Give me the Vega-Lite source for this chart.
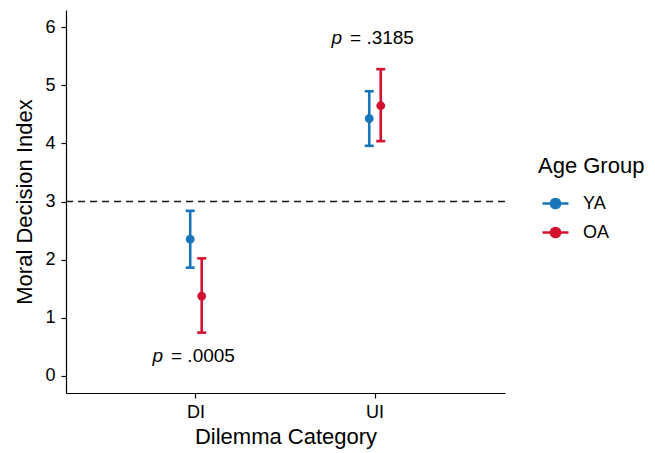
{
  "$schema": "https://vega.github.io/schema/vega-lite/v6.json",
  "width": 439,
  "height": 383,
  "autosize": "none",
  "padding": {"left": 66, "top": 10, "right": 150, "bottom": 60},
  "background": "white",
  "config": {
    "view": {"stroke": null},
    "font": "Liberation Sans",
    "axis": {"grid": false, "domainColor": "black", "domainWidth": 1.2, "tickColor": "black", "tickWidth": 1.2, "tickSize": 5, "labelColor": "black", "titleColor": "black", "labelFont": "Liberation Sans", "titleFont": "Liberation Sans", "labelFontSize": 18, "titleFontSize": 22, "titleFontWeight": "normal"}
  },
  "datasets": {
    "stats": [
      {"category": "DI", "group": "YA", "mean": 2.35, "lo": 1.86, "hi": 2.84},
      {"category": "DI", "group": "OA", "mean": 1.37, "lo": 0.74, "hi": 2.02},
      {"category": "UI", "group": "YA", "mean": 4.43, "lo": 3.96, "hi": 4.9},
      {"category": "UI", "group": "OA", "mean": 4.65, "lo": 4.04, "hi": 5.28}
    ],
    "notes": [
      {"category": "DI", "y": 0.33, "p": "p", "rest": "= .0005"},
      {"category": "UI", "y": 5.82, "p": "p", "rest": "= .3185"}
    ],
    "ref": [{"threshold": 3}]
  },
  "encoding": {
    "x": {"field": "category", "type": "nominal", "sort": ["DI", "UI"],
      "scale": {"type": "band", "domain": ["DI", "UI"], "paddingInner": 0, "paddingOuter": 0.226},
      "axis": {"title": "Dilemma Category", "labelAngle": 0, "labelPadding": 5, "titlePadding": 5}}
  },
  "layer": [
    {
      "data": {"name": "ref"},
      "mark": {"type": "rule", "strokeDash": [7, 5], "color": "#1a1a1a", "strokeWidth": 1.5},
      "encoding": {"x": null,
        "y": {"field": "threshold", "type": "quantitative", "scale": {"domain": [-0.3, 6.3], "nice": false, "zero": false},
          "axis": {"title": "Moral Decision Index", "values": [0, 1, 2, 3, 4, 5, 6], "format": "d", "labelPadding": 6, "titlePadding": 8}}}
    },
    {
      "data": {"name": "stats"},
      "mark": {"type": "rule", "strokeWidth": 2.6, "opacity": 1},
      "encoding": {
        "xOffset": {"field": "group", "type": "nominal", "sort": ["YA", "OA"], "scale": {"type": "point", "domain": ["YA", "OA"], "range": [78, 101]}},
        "y": {"field": "lo", "type": "quantitative"},
        "y2": {"field": "hi"},
        "color": {"field": "group", "type": "nominal"}
      }
    },
    {
      "data": {"name": "stats"},
      "mark": {"type": "tick", "orient": "horizontal", "size": 9, "thickness": 2.6, "opacity": 1},
      "encoding": {
        "xOffset": {"field": "group", "type": "nominal", "sort": ["YA", "OA"], "scale": {"type": "point", "domain": ["YA", "OA"], "range": [78, 101]}},
        "y": {"field": "lo", "type": "quantitative"},
        "color": {"field": "group", "type": "nominal"}
      }
    },
    {
      "data": {"name": "stats"},
      "mark": {"type": "tick", "orient": "horizontal", "size": 9, "thickness": 2.6, "opacity": 1},
      "encoding": {
        "xOffset": {"field": "group", "type": "nominal", "sort": ["YA", "OA"], "scale": {"type": "point", "domain": ["YA", "OA"], "range": [78, 101]}},
        "y": {"field": "hi", "type": "quantitative"},
        "color": {"field": "group", "type": "nominal"}
      }
    },
    {
      "data": {"name": "stats"},
      "mark": {"type": "point", "filled": true, "size": 78, "opacity": 1},
      "encoding": {
        "xOffset": {"field": "group", "type": "nominal", "sort": ["YA", "OA"], "scale": {"type": "point", "domain": ["YA", "OA"], "range": [78, 101]}},
        "y": {"field": "mean", "type": "quantitative"},
        "color": {"field": "group", "type": "nominal",
          "scale": {"domain": ["YA", "OA"], "range": ["#1874BB", "#D4112F"]},
          "legend": {
            "title": "Age Group", "orient": "none", "legendX": 472, "legendY": 146,
            "titleFont": "Liberation Sans", "titleFontSize": 22, "titleFontWeight": "normal", "titleColor": "black", "titlePadding": 11,
            "labelFont": "Liberation Sans", "labelFontSize": 18, "labelColor": "black", "labelOffset": 13,
            "symbolType": "M-1,0H1M-0.35,0A0.35,0.35 0 1,0 0.35,0A0.35,0.35 0 1,0 -0.35,0Z",
            "symbolSize": 676, "symbolStrokeWidth": 2.6, "symbolOpacity": 1, "rowPadding": 4, "padding": 0, "symbolOffset": 3,
            "encode": {"symbols": {"update": {
              "stroke": {"scale": "color", "field": "value"},
              "fill": {"scale": "color", "field": "value"},
              "size": {"value": 676},
              "strokeWidth": {"value": 2.6},
              "opacity": {"value": 1},
              "fillOpacity": {"value": 1},
              "strokeOpacity": {"value": 1}
            }}}
          }}
      }
    },
    {
      "data": {"name": "notes"},
      "mark": {"type": "text", "align": "right", "baseline": "middle", "dx": -33, "fontStyle": "italic", "fontSize": 19, "color": "black", "font": "Liberation Sans"},
      "encoding": {"y": {"field": "y", "type": "quantitative"}, "text": {"field": "p"}}
    },
    {
      "data": {"name": "notes"},
      "mark": {"type": "text", "align": "left", "baseline": "middle", "dx": -25, "fontSize": 19, "color": "black", "font": "Liberation Sans"},
      "encoding": {"y": {"field": "y", "type": "quantitative"}, "text": {"field": "rest"}}
    }
  ]
}
